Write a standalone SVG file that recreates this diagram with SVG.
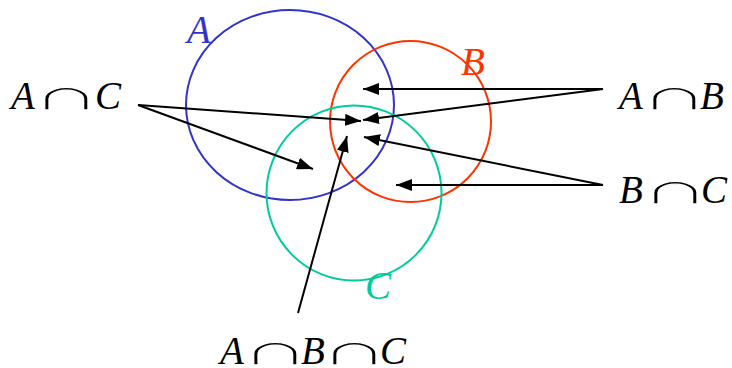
<svg xmlns="http://www.w3.org/2000/svg" width="732" height="368" viewBox="0 0 732 368">
<defs>
<style>
.t{font-family:"Liberation Serif","DejaVu Serif",serif;font-size:39px;font-style:italic;fill:#000}
.n{font-family:"DejaVu Serif",serif;font-size:38px;fill:#000;stroke:#fff;stroke-width:1.3px;paint-order:fill;text-anchor:middle}
.c{fill:none;stroke-width:2}
.ln{stroke:#000;stroke-width:2;fill:none;marker-end:url(#ah)}
</style>
<marker id="ah" viewBox="0 0 16 12" refX="16" refY="6" markerWidth="16" markerHeight="12" markerUnits="userSpaceOnUse" orient="auto">
<path d="M0,0 L16,6 L0,12 Z" fill="#000"/>
</marker>
</defs>
<rect width="732" height="368" fill="#fff"/>
<g id="setA"><ellipse class="c" cx="290" cy="105" rx="104" ry="95" stroke="#3333cc"/><text class="t" x="187" y="43" style="fill:#3333cc">A</text></g>
<g id="setB"><circle class="c" cx="410.5" cy="121.5" r="80.5" stroke="#ff3300"/><text class="t" x="461" y="75" style="fill:#ff3300">B</text></g>
<g id="setC"><circle class="c" cx="354" cy="193" r="87.5" stroke="#00cc99"/><text class="t" x="365" y="299" style="fill:#00cc99">C</text></g>
<g id="lblAC">
<text class="t" x="11" y="109">A</text>
<text class="n" transform="translate(66,109.5) scale(1.85,0.95)">∩</text>
<text class="t" x="95" y="109">C</text>
</g>
<g id="lblAB">
<text class="t" x="619" y="109">A</text>
<text class="n" transform="translate(674,109.5) scale(1.85,0.95)">∩</text>
<text class="t" x="700" y="109">B</text>
</g>
<g id="lblBC">
<text class="t" x="619" y="203">B</text>
<text class="n" transform="translate(675,203.5) scale(1.85,0.95)">∩</text>
<text class="t" x="701" y="203">C</text>
</g>
<g id="lblABC">
<text class="t" x="220" y="364">A</text>
<text class="n" transform="translate(275,364.5) scale(1.85,0.95)">∩</text>
<text class="t" x="301" y="364">B</text>
<text class="n" transform="translate(354,364.5) scale(1.85,0.95)">∩</text>
<text class="t" x="380" y="364">C</text>
</g>
<g id="connectors">
<line class="ln" x1="138" y1="105" x2="361" y2="121"/>
<line class="ln" x1="138" y1="105" x2="313" y2="169"/>
<line class="ln" x1="603" y1="89" x2="363" y2="89"/>
<line class="ln" x1="603" y1="89" x2="363" y2="120"/>
<line class="ln" x1="603" y1="185" x2="396" y2="185"/>
<line class="ln" x1="603" y1="185" x2="364" y2="137"/>
<line class="ln" x1="298" y1="313" x2="347" y2="136"/>
</g>
</svg>
